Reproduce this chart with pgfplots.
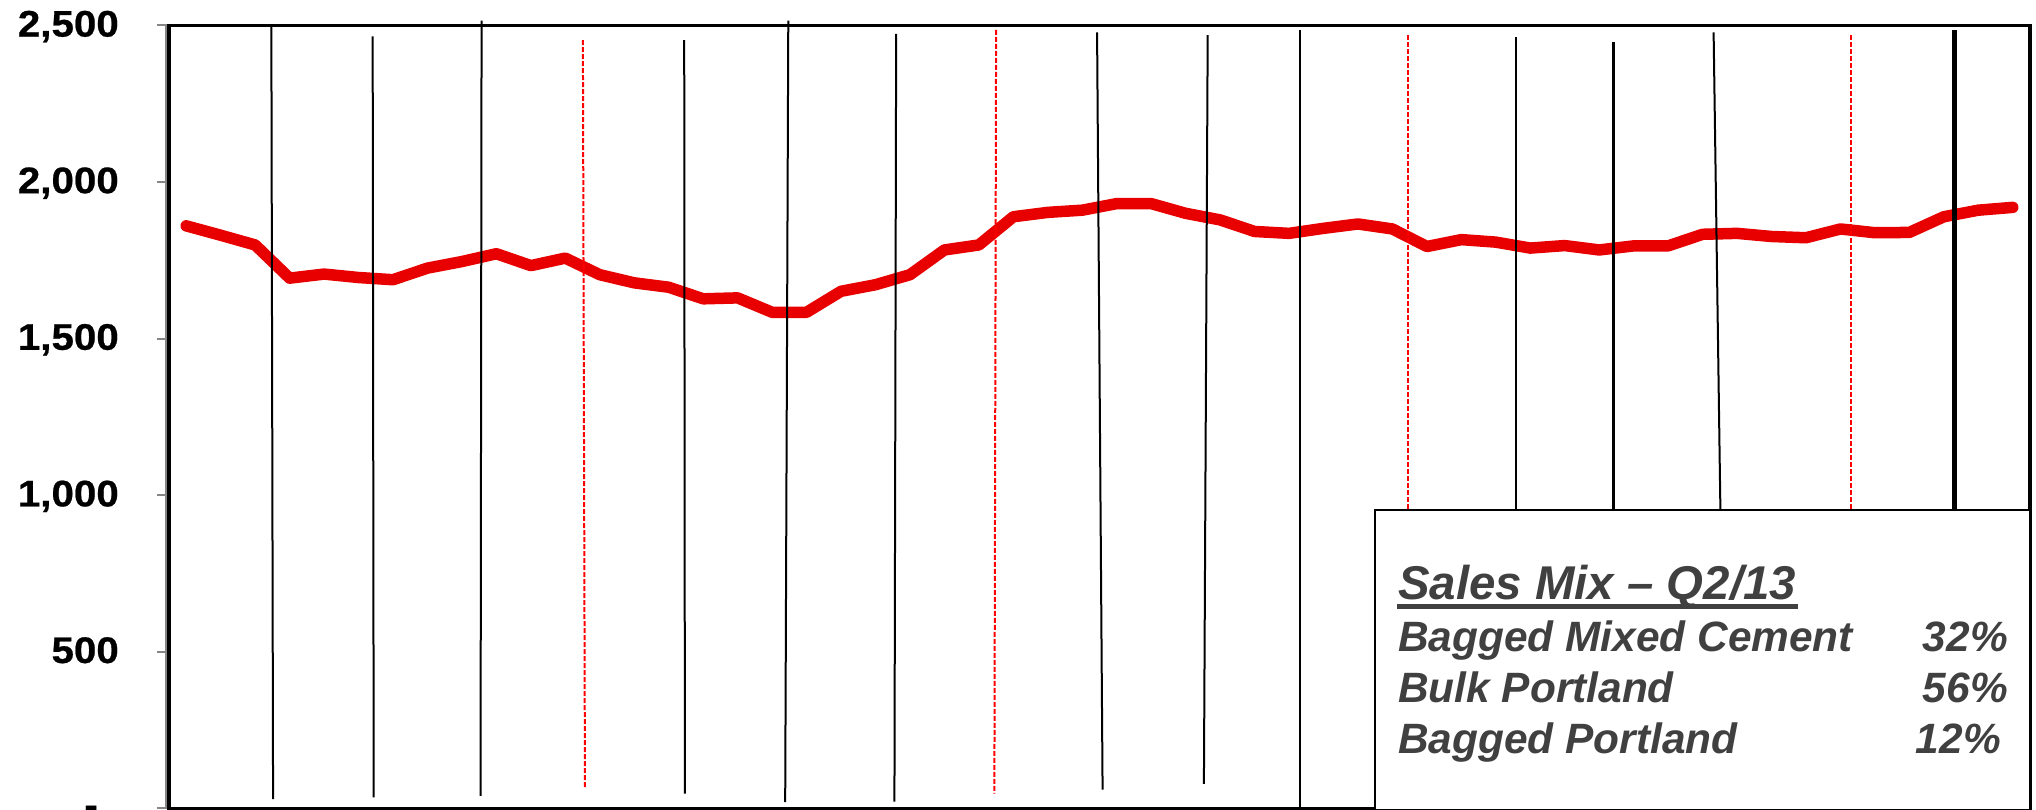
\documentclass[border=0pt]{standalone}
\usepackage{pgfplots}
\pgfplotsset{compat=1.18}
\usepackage{fontspec}
\setmainfont{Liberation Sans}
\newfontfamily\tickfont[FakeStretch=1.09, FakeBold=0.6]{Liberation Sans}

\definecolor{salesred}{RGB}{232,0,0}
\definecolor{boxtext}{RGB}{64,64,64}
\definecolor{axisgray}{RGB}{134,134,134}

% Monthly volume (thousand tonnes), month index 0..53
\pgfplotstableread{
m v
0 1860
1 1830
2 1799
3 1693
4 1706
5 1695
6 1688
7 1725
8 1746
9 1771
10 1733
11 1757
12 1704
13 1678
14 1664
15 1627
16 1630
17 1584
18 1584
19 1651
20 1672
21 1704
22 1783
23 1799
24 1889
25 1903
26 1910
27 1931
28 1931
29 1900
30 1879
31 1842
32 1836
33 1852
34 1866
35 1850
36 1794
37 1816
38 1808
39 1789
40 1797
41 1783
42 1796
43 1796
44 1833
45 1836
46 1826
47 1822
48 1850
49 1838
50 1839
51 1889
52 1910
53 1919
}\salesdata

\begin{document}
\begin{tikzpicture}
\begin{axis}[
  at={(0,0)}, anchor=south west,
  scale only axis, width=1861bp, height=783bp,
  xmin=-0.5, xmax=53.5, ymin=0, ymax=2500,
  clip=false,
  axis on top,
  axis line style={black, line width=3.6bp},
  xtick=\empty,
  ytick={0,500,1000,1500,2000,2500},
  ytick pos=left,
  yticklabels={\raisebox{2bp}{-}\kern21bp, 500, {1,000}, {1,500}, {2,000}, {2,500}},
  yticklabel style={font=\fontsize{37bp}{37bp}\tickfont\bfseries,
    anchor=base east, inner sep=0pt, xshift=-38bp, yshift=-11.2bp},
  tick align=outside,
  major tick length=12bp,
  ytick style={axisgray, line width=2bp},
]
% sales volume
\addplot[salesred, line width=11.5bp, line cap=round, line join=round]
  table[x=m, y=v] {\salesdata};

% quarter separators
\addplot[black, line width=2bp] coordinates {(2.47,2500) (2.52,30)};
\addplot[black, line width=2bp] coordinates {(5.41,2465) (5.44,35)};
\addplot[black, line width=2bp] coordinates {(8.57,2515) (8.54,40)};
\addplot[black, line width=2bp] coordinates {(14.45,2453) (14.47,47)};
\addplot[black, line width=2bp] coordinates {(17.47,2515) (17.38,20)};
\addplot[black, line width=2bp] coordinates {(20.60,2473) (20.55,22)};
\addplot[black, line width=2bp] coordinates {(26.43,2478) (26.59,60)};
\addplot[black, line width=2bp] coordinates {(29.64,2469) (29.53,78)};
\addplot[black, line width=2.6bp] coordinates {(32.32,2486) (32.32,0)};
\addplot[black, line width=2bp] coordinates {(38.58,2462) (38.58,0)};
\addplot[black, line width=2.5bp] coordinates {(41.42,2446) (41.42,0)};
\addplot[black, line width=2bp] coordinates {(44.32,2478) (44.64,0)};
\addplot[black, line width=4.8bp] coordinates {(51.30,2484) (51.30,0)};

% year separators
\addplot[red, line width=2bp, dash pattern=on 5bp off 2bp] coordinates {(11.51,2453) (11.57,63)};
\addplot[red, line width=2bp, dash pattern=on 5bp off 2bp] coordinates {(23.50,2486) (23.45,47)};
\addplot[red, line width=2bp, dash pattern=on 5bp off 2bp] coordinates {(35.45,2468) (35.45,0)};
\addplot[red, line width=2bp, dash pattern=on 5bp off 2bp] coordinates {(48.30,2468) (48.30,0)};
\end{axis}

% grey value-axis line beside the frame
\draw[axisgray, line width=2bp] (-3bp,0bp) -- (-3bp,783bp);

% sales mix box
\fill[white] (1206bp,-2bp) rectangle (1861bp,298.4bp);
\draw[black, line width=2.5bp] (1206bp,-2bp) rectangle (1861bp,298.4bp);
\begin{scope}[every node/.style={inner sep=0pt, text=boxtext}]
\node[anchor=base west, font=\fontsize{47.4bp}{50bp}\selectfont\bfseries\itshape]
  at (1229bp,208.4bp) {Sales Mix – Q2/13};
\fill[boxtext] (1228bp,199.5bp) rectangle (1629bp,204bp);
\node[anchor=base west, font=\fontsize{42.4bp}{45bp}\selectfont\bfseries\itshape]
  at (1229bp,156.7bp) {Bagged Mixed Cement};
\node[anchor=base east, font=\fontsize{42.4bp}{45bp}\selectfont\bfseries\itshape]
  at (1839bp,156.7bp) {32\%};
\node[anchor=base west, font=\fontsize{42.4bp}{45bp}\selectfont\bfseries\itshape]
  at (1229bp,105.7bp) {Bulk Portland};
\node[anchor=base east, font=\fontsize{42.4bp}{45bp}\selectfont\bfseries\itshape]
  at (1839bp,105.7bp) {56\%};
\node[anchor=base west, font=\fontsize{42.4bp}{45bp}\selectfont\bfseries\itshape]
  at (1229bp,55.1bp) {Bagged Portland};
\node[anchor=base east, font=\fontsize{42.4bp}{45bp}\selectfont\bfseries\itshape]
  at (1832bp,55.1bp) {12\%};
\end{scope}

\pgfresetboundingbox
\path[use as bounding box] (-169bp,-1.6bp) rectangle (1867bp,808.4bp);
\end{tikzpicture}
\end{document}
